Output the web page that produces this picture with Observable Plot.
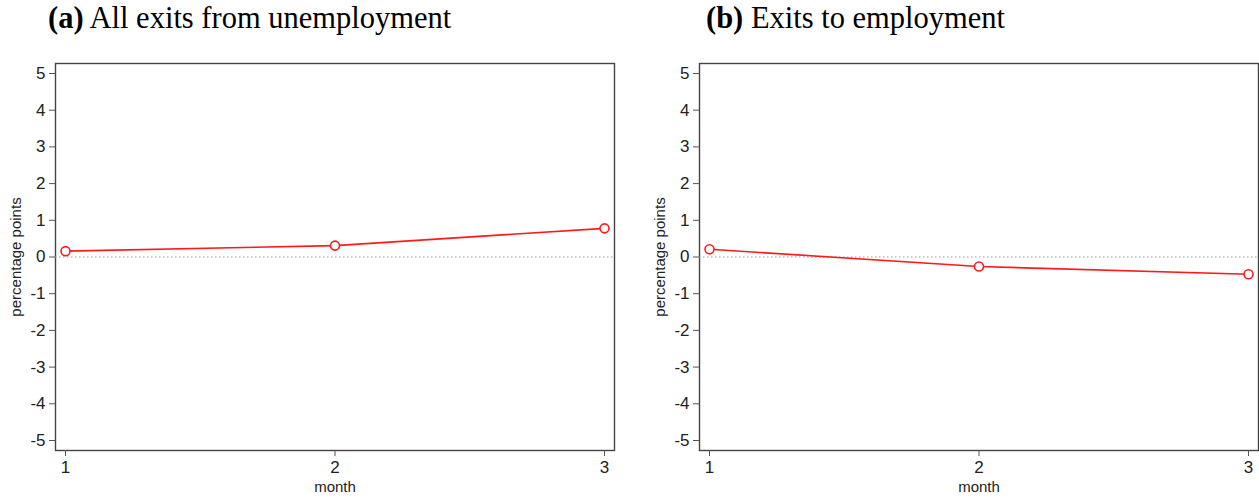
<!DOCTYPE html>
<html><head><meta charset="utf-8">
<script src="https://cdn.jsdelivr.net/npm/d3@7"></script>
<script src="https://cdn.jsdelivr.net/npm/@observablehq/plot@0.6"></script>
<style>
html,body{margin:0;padding:0;background:#fff;overflow:hidden;}
#wrap{position:relative;width:1259px;height:498px;overflow:hidden;}
.title{position:absolute;top:1px;font-family:"Liberation Serif","DejaVu Serif",serif;font-size:30.5px;color:#000;white-space:nowrap;}
.title b{font-weight:bold;}
.panel{position:absolute;top:50px;width:630px;height:448px;}
.panel svg{max-width:none !important;}
</style></head><body>
<div id="wrap">
  <div class="title" style="left:48px"><b>(a)</b> All exits from unemployment</div>
  <div class="title" style="left:706px"><b>(b)</b> Exits to employment</div>
  <div class="panel" id="pa" style="left:0px"></div>
  <div class="panel" id="pb" style="left:644px"></div>
</div>
<script>
const months = [1, 2, 3];
const allExits = [0.16, 0.31, 0.78];
const toEmployment = [0.21, -0.26, -0.47];
const yTicks = [-5, -4, -3, -2, -1, 0, 1, 2, 3, 4, 5];
const xTicks = [1, 2, 3];
const yLabel = "percentage points";
const xLabel = "month";

function panel(values) {
  const data = months.map((m, i) => ({month: m, value: values[i]}));
  return Plot.plot({
    width: 630,
    height: 448,
    marginLeft: 55,
    marginRight: 16,
    marginTop: 13,
    marginBottom: 48,
    style: {fontFamily: "'Liberation Sans', Arial, sans-serif", fontSize: "17px", color: "#222", background: "#fff", maxWidth: "none"},
    x: {domain: [1, 3], inset: 10},
    y: {domain: [-5, 5], insetTop: 10, insetBottom: 10},
    marks: [
      Plot.frame({stroke: "#444", strokeWidth: 1.4}),
      Plot.ruleY([0], {stroke: "#999", strokeDasharray: "1.5,2.5", strokeWidth: 1}),
      Plot.axisY({ticks: yTicks, tickSize: 6, tickPadding: 4, tickFormat: d => String(d), fontSize: 17, stroke: "#555", label: null}),
      Plot.axisX({ticks: xTicks, tickSize: 6, tickPadding: 4, tickFormat: d => String(d), fontSize: 17, stroke: "#555", label: null}),
      Plot.text([yLabel], {frameAnchor: "left", textAnchor: "middle", lineAnchor: "middle", dx: -39, rotate: -90, fontSize: 15, fill: "#222"}),
      Plot.text([xLabel], {frameAnchor: "bottom", textAnchor: "middle", lineAnchor: "middle", dy: 37, fontSize: 15, fill: "#222"}),
      Plot.line(data, {x: "month", y: "value", stroke: "#ff1a1a", strokeWidth: 1.6}),
      Plot.dot(data, {x: "month", y: "value", r: 4.5, stroke: "#ff1a1a", strokeWidth: 1.6, fill: "#fff"})
    ]
  });
}
document.getElementById("pa").appendChild(panel(allExits));
document.getElementById("pb").appendChild(panel(toEmployment));
</script>
</body></html>
